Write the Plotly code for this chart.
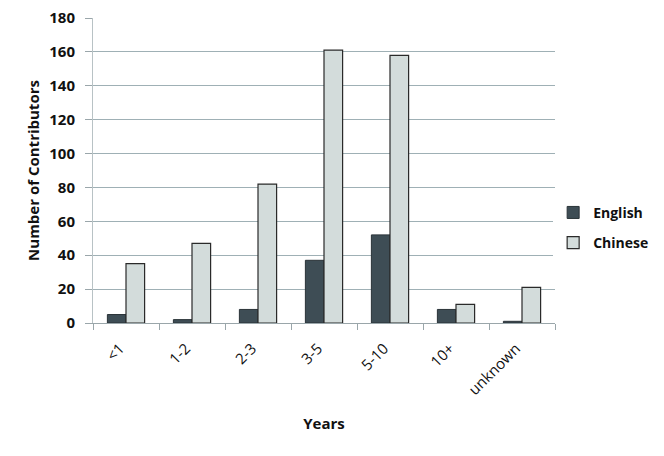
import plotly.graph_objects as go

categories = ["<1", "1-2", "2-3", "3-5", "5-10", "10+", "unknown"]
english = [5, 2, 8, 37, 52, 8, 1]
chinese = [35, 47, 82, 161, 158, 11, 21]
y_ticks = [0, 20, 40, 60, 80, 100, 120, 140, 160, 180]

font_family = "Open Sans, Liberation Sans, Arial, sans-serif"

fig = go.Figure()
fig.add_trace(go.Bar(
    name="English", x=categories, y=english, legendgroup="en",
    marker=dict(color="#3E4D55", line=dict(color="#2a3338", width=1)),
))
fig.add_trace(go.Bar(
    name="Chinese", x=categories, y=chinese, legendgroup="zh",
    marker=dict(color="#D3DCDB", line=dict(color="#2a2a2a", width=1.2)),
))

fig.update_layout(
    width=664, height=456,
    margin=dict(l=85, r=117, t=10, b=141, autoexpand=False),
    paper_bgcolor="white", plot_bgcolor="white",
    barmode="group", bargap=0.436, bargroupgap=0,
    font=dict(family=font_family, color="#111111"),
    showlegend=True,
    legend=dict(
        x=0.996, xanchor="left", y=0.312, yanchor="middle",
        font=dict(size=14, family=font_family, weight="bold"),
        itemwidth=30, tracegroupgap=9,
    ),
)
fig.update_xaxes(
    type="category",
    automargin=False,
    tickangle=-45,
    tickson="boundaries",
    ticks="outside", ticklen=6, tickcolor="#9aa6aa",
    ticklabelstandoff=10, ticklabelshift=-6,
    ticklabeloverflow="allow",
    showline=True, linecolor="#9aa6aa", linewidth=1,
    showgrid=False,
    tickfont=dict(size=15, family=font_family),
    title=dict(text="Years", font=dict(size=15, family=font_family, weight="bold"), standoff=20),
)
fig.update_yaxes(
    automargin=False,
    range=[0, 180],
    tickvals=y_ticks,
    ticks="outside", ticklen=7, tickcolor="#9aa6aa",
    ticklabelstandoff=7,
    ticklabeloverflow="allow",
    showline=True, linecolor="#b8c2c5", linewidth=1,
    showgrid=True, gridcolor="#9fb0b5", gridwidth=1,
    zeroline=False,
    tickfont=dict(size=15, family=font_family, weight="bold"),
    title=dict(text="Number of Contributors", font=dict(size=15, family=font_family, weight="bold"), standoff=6),
)

fig.write_html("out.html")
